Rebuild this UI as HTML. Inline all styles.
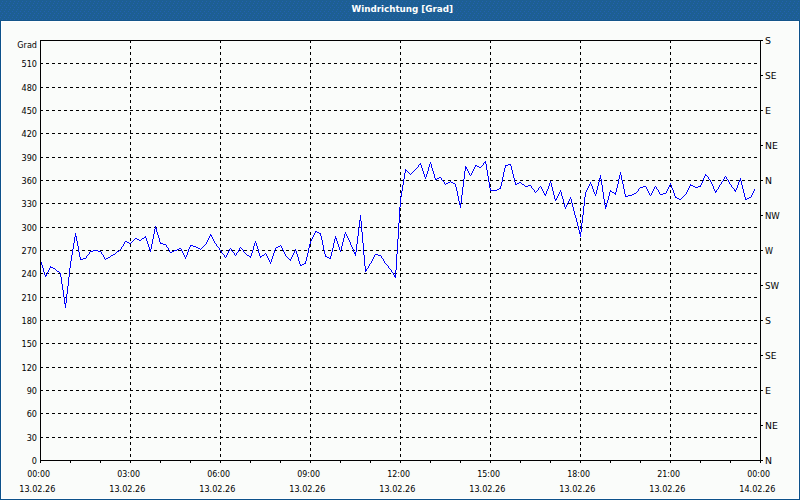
<!DOCTYPE html>
<html><head><meta charset="utf-8"><title>Windrichtung</title>
<style>
html,body{margin:0;padding:0;background:#fff;}
svg{display:block;}
</style></head><body>
<svg width="800" height="500" viewBox="0 0 800 500">
<defs><pattern id="dz" x="0" y="3" width="4" height="6" patternUnits="userSpaceOnUse"><rect width="4" height="6" fill="#1d5f93"/><rect x="1" y="0" width="1" height="1" fill="#2361b0"/><rect x="0" y="2" width="1" height="1" fill="#2361b0"/><rect x="2" y="4" width="1" height="1" fill="#2361b0"/></pattern></defs>
<g shape-rendering="crispEdges"><rect x="0" y="0" width="800" height="500" fill="#0c518a"/><rect x="0" y="0" width="800" height="20" fill="url(#dz)"/><rect x="0" y="20" width="800" height="1" fill="#14558a"/><rect x="1" y="21" width="798" height="478" fill="#fff"/><rect x="2" y="22" width="796" height="476" fill="#fafcfa"/></g>
<path d="M40 437.5H757 M40 413.5H757 M40 390.5H757 M40 367.5H757 M40 343.5H757 M40 320.5H757 M40 297.5H757 M40 273.5H757 M40 250.5H757 M40 227.5H757 M40 203.5H757 M40 180.5H757 M40 157.5H757 M40 133.5H757 M40 110.5H757 M40 87.5H757 M40 63.5H757 M130.5 40V457 M220.5 40V457 M310.5 40V457 M400.5 40V457 M490.5 40V457 M580.5 40V457 M670.5 40V457" stroke="#000" stroke-width="1" stroke-dasharray="3 3" fill="none" shape-rendering="crispEdges"/>
<path d="M40.5 461V463 M70.5 461V463 M100.5 461V463 M130.5 461V463 M160.5 461V463 M190.5 461V463 M220.5 461V463 M250.5 461V463 M280.5 461V463 M310.5 461V463 M340.5 461V463 M370.5 461V463 M400.5 461V463 M430.5 461V463 M460.5 461V463 M490.5 461V463 M520.5 461V463 M550.5 461V463 M580.5 461V463 M610.5 461V463 M640.5 461V463 M670.5 461V463 M700.5 461V463 M730.5 461V463 M760.5 461V463 M761 40.5H763 M761 75.5H763 M761 110.5H763 M761 145.5H763 M761 180.5H763 M761 215.5H763 M761 250.5H763 M761 285.5H763 M761 320.5H763 M761 355.5H763 M761 390.5H763 M761 425.5H763 M761 460.5H763" stroke="#000" stroke-width="1" fill="none" shape-rendering="crispEdges"/>
<path d="M40 260h1v2h-1zM41 262h1v3h-1zM42 265h1v3h-1zM43 268h1v4h-1zM44 272h1v3h-1zM45 275h1v2h-1zM46 274h1v2h-1zM47 272h1v2h-1zM48 270h1v2h-1zM49 268h1v2h-1zM50 266h1v2h-1zM51 267h1v1h-1zM52 267h1v1h-1zM53 268h1v1h-1zM54 268h1v1h-1zM55 269h1v1h-1zM56 270h1v1h-1zM57 271h1v1h-1zM58 271h1v1h-1zM59 272h1v1h-1zM60 273h1v4h-1zM61 277h1v7h-1zM62 284h1v6h-1zM63 290h1v7h-1zM64 297h1v7h-1zM65 303h1v5h-1zM66 294h1v9h-1zM67 286h1v8h-1zM68 277h1v9h-1zM69 268h1v9h-1zM70 261h1v7h-1zM71 255h1v6h-1zM72 249h1v6h-1zM73 243h1v6h-1zM74 237h1v6h-1zM75 233h1v4h-1zM76 236h1v5h-1zM77 241h1v5h-1zM78 246h1v6h-1zM79 252h1v5h-1zM80 257h1v3h-1zM81 259h1v1h-1zM82 259h1v1h-1zM83 258h1v1h-1zM84 258h1v1h-1zM85 258h1v1h-1zM86 256h1v2h-1zM87 255h1v1h-1zM88 254h1v1h-1zM89 252h1v2h-1zM90 251h1v1h-1zM91 251h1v1h-1zM92 251h1v1h-1zM93 250h1v1h-1zM94 250h1v1h-1zM95 250h1v1h-1zM96 250h1v1h-1zM97 250h1v1h-1zM98 251h1v1h-1zM99 251h1v1h-1zM100 251h1v1h-1zM101 252h1v2h-1zM102 254h1v1h-1zM103 255h1v2h-1zM104 257h1v2h-1zM105 259h1v1h-1zM106 258h1v1h-1zM107 258h1v1h-1zM108 257h1v1h-1zM109 257h1v1h-1zM110 256h1v1h-1zM111 255h1v1h-1zM112 255h1v1h-1zM113 254h1v1h-1zM114 254h1v1h-1zM115 253h1v1h-1zM116 252h1v1h-1zM117 251h1v1h-1zM118 251h1v1h-1zM119 250h1v1h-1zM120 249h1v1h-1zM121 247h1v2h-1zM122 246h1v1h-1zM123 244h1v2h-1zM124 242h1v2h-1zM125 241h1v1h-1zM126 241h1v1h-1zM127 242h1v1h-1zM128 242h1v1h-1zM129 243h1v1h-1zM130 243h1v1h-1zM131 242h1v1h-1zM132 241h1v1h-1zM133 240h1v1h-1zM134 239h1v1h-1zM135 238h1v1h-1zM136 238h1v1h-1zM137 239h1v1h-1zM138 239h1v1h-1zM139 240h1v1h-1zM140 240h1v1h-1zM141 239h1v1h-1zM142 238h1v1h-1zM143 238h1v1h-1zM144 237h1v1h-1zM145 236h1v2h-1zM146 238h1v3h-1zM147 241h1v3h-1zM148 244h1v3h-1zM149 247h1v3h-1zM150 249h1v3h-1zM151 244h1v5h-1zM152 239h1v5h-1zM153 234h1v5h-1zM154 229h1v5h-1zM155 226h1v3h-1zM156 228h1v4h-1zM157 232h1v3h-1zM158 235h1v3h-1zM159 238h1v4h-1zM160 242h1v2h-1zM161 243h1v1h-1zM162 243h1v1h-1zM163 244h1v1h-1zM164 244h1v1h-1zM165 244h1v1h-1zM166 245h1v2h-1zM167 247h1v1h-1zM168 248h1v2h-1zM169 250h1v2h-1zM170 252h1v1h-1zM171 252h1v1h-1zM172 251h1v1h-1zM173 251h1v1h-1zM174 250h1v1h-1zM175 250h1v1h-1zM176 250h1v1h-1zM177 249h1v1h-1zM178 249h1v1h-1zM179 248h1v1h-1zM180 248h1v1h-1zM181 249h1v2h-1zM182 251h1v2h-1zM183 253h1v2h-1zM184 255h1v2h-1zM185 257h1v2h-1zM186 255h1v2h-1zM187 252h1v3h-1zM188 249h1v3h-1zM189 247h1v2h-1zM190 245h1v2h-1zM191 245h1v1h-1zM192 245h1v1h-1zM193 246h1v1h-1zM194 246h1v1h-1zM195 246h1v1h-1zM196 247h1v1h-1zM197 247h1v1h-1zM198 248h1v1h-1zM199 248h1v1h-1zM200 249h1v1h-1zM201 248h1v1h-1zM202 247h1v1h-1zM203 246h1v1h-1zM204 245h1v1h-1zM205 244h1v1h-1zM206 242h1v2h-1zM207 240h1v2h-1zM208 238h1v2h-1zM209 236h1v2h-1zM210 234h1v2h-1zM211 235h1v2h-1zM212 237h1v2h-1zM213 239h1v2h-1zM214 241h1v2h-1zM215 243h1v1h-1zM216 244h1v2h-1zM217 246h1v1h-1zM218 247h1v1h-1zM219 248h1v2h-1zM220 250h1v1h-1zM221 251h1v2h-1zM222 253h1v1h-1zM223 254h1v1h-1zM224 255h1v2h-1zM225 257h1v1h-1zM226 255h1v2h-1zM227 253h1v2h-1zM228 251h1v2h-1zM229 249h1v2h-1zM230 248h1v1h-1zM231 249h1v2h-1zM232 251h1v1h-1zM233 252h1v1h-1zM234 253h1v2h-1zM235 255h1v1h-1zM236 253h1v2h-1zM237 252h1v1h-1zM238 250h1v2h-1zM239 248h1v2h-1zM240 247h1v1h-1zM241 248h1v1h-1zM242 249h1v1h-1zM243 250h1v2h-1zM244 252h1v1h-1zM245 253h1v1h-1zM246 254h1v1h-1zM247 255h1v1h-1zM248 255h1v1h-1zM249 256h1v1h-1zM250 256h1v2h-1zM251 253h1v3h-1zM252 250h1v3h-1zM253 246h1v4h-1zM254 243h1v3h-1zM255 241h1v2h-1zM256 243h1v3h-1zM257 246h1v3h-1zM258 249h1v4h-1zM259 253h1v3h-1zM260 256h1v2h-1zM261 256h1v1h-1zM262 255h1v1h-1zM263 255h1v1h-1zM264 254h1v1h-1zM265 253h1v1h-1zM266 254h1v2h-1zM267 256h1v2h-1zM268 258h1v2h-1zM269 260h1v2h-1zM270 262h1v2h-1zM271 259h1v3h-1zM272 256h1v3h-1zM273 253h1v3h-1zM274 250h1v3h-1zM275 248h1v2h-1zM276 247h1v1h-1zM277 247h1v1h-1zM278 246h1v1h-1zM279 246h1v1h-1zM280 245h1v1h-1zM281 246h1v2h-1zM282 248h1v2h-1zM283 250h1v2h-1zM284 252h1v2h-1zM285 254h1v2h-1zM286 256h1v1h-1zM287 257h1v1h-1zM288 258h1v1h-1zM289 259h1v1h-1zM290 259h1v2h-1zM291 257h1v2h-1zM292 255h1v2h-1zM293 253h1v2h-1zM294 251h1v2h-1zM295 249h1v2h-1zM296 251h1v3h-1zM297 254h1v3h-1zM298 257h1v4h-1zM299 261h1v3h-1zM300 264h1v2h-1zM301 265h1v1h-1zM302 264h1v1h-1zM303 264h1v1h-1zM304 263h1v1h-1zM305 261h1v3h-1zM306 257h1v4h-1zM307 253h1v4h-1zM308 248h1v5h-1zM309 244h1v4h-1zM310 241h1v3h-1zM311 239h1v2h-1zM312 237h1v2h-1zM313 235h1v2h-1zM314 233h1v2h-1zM315 231h1v2h-1zM316 231h1v1h-1zM317 232h1v1h-1zM318 232h1v1h-1zM319 233h1v1h-1zM320 233h1v3h-1zM321 236h1v4h-1zM322 240h1v5h-1zM323 245h1v5h-1zM324 250h1v4h-1zM325 254h1v3h-1zM326 256h1v1h-1zM327 257h1v1h-1zM328 257h1v1h-1zM329 258h1v1h-1zM330 256h1v3h-1zM331 252h1v4h-1zM332 248h1v4h-1zM333 243h1v5h-1zM334 239h1v4h-1zM335 236h1v3h-1zM336 238h1v3h-1zM337 241h1v3h-1zM338 244h1v3h-1zM339 247h1v3h-1zM340 250h1v2h-1zM341 246h1v4h-1zM342 242h1v4h-1zM343 238h1v4h-1zM344 234h1v4h-1zM345 232h1v2h-1zM346 234h1v2h-1zM347 236h1v2h-1zM348 238h1v2h-1zM349 240h1v2h-1zM350 242h1v3h-1zM351 245h1v2h-1zM352 247h1v2h-1zM353 249h1v3h-1zM354 252h1v2h-1zM355 252h1v4h-1zM356 244h1v8h-1zM357 236h1v8h-1zM358 228h1v8h-1zM359 220h1v8h-1zM360 215h1v6h-1zM361 221h1v11h-1zM362 232h1v11h-1zM363 243h1v12h-1zM364 255h1v11h-1zM365 266h1v6h-1zM366 269h1v2h-1zM367 268h1v1h-1zM368 266h1v2h-1zM369 264h1v2h-1zM370 263h1v1h-1zM371 261h1v2h-1zM372 259h1v2h-1zM373 257h1v2h-1zM374 255h1v2h-1zM375 254h1v1h-1zM376 254h1v1h-1zM377 254h1v1h-1zM378 255h1v1h-1zM379 255h1v1h-1zM380 255h1v1h-1zM381 256h1v2h-1zM382 258h1v1h-1zM383 259h1v2h-1zM384 261h1v2h-1zM385 263h1v1h-1zM386 264h1v1h-1zM387 265h1v1h-1zM388 266h1v2h-1zM389 268h1v1h-1zM390 269h1v1h-1zM391 270h1v2h-1zM392 272h1v1h-1zM393 273h1v2h-1zM394 275h1v2h-1zM395 270h1v8h-1zM396 254h1v16h-1zM397 239h1v15h-1zM398 223h1v16h-1zM399 207h1v16h-1zM400 197h1v10h-1zM401 191h1v6h-1zM402 185h1v6h-1zM403 179h1v6h-1zM404 173h1v6h-1zM405 169h1v4h-1zM406 170h1v1h-1zM407 171h1v1h-1zM408 172h1v1h-1zM409 173h1v1h-1zM410 174h1v1h-1zM411 173h1v1h-1zM412 172h1v1h-1zM413 171h1v1h-1zM414 170h1v1h-1zM415 169h1v1h-1zM416 168h1v1h-1zM417 167h1v1h-1zM418 165h1v2h-1zM419 164h1v1h-1zM420 163h1v2h-1zM421 165h1v3h-1zM422 168h1v3h-1zM423 171h1v3h-1zM424 174h1v3h-1zM425 177h1v2h-1zM426 174h1v3h-1zM427 171h1v3h-1zM428 167h1v4h-1zM429 164h1v3h-1zM430 162h1v2h-1zM431 164h1v4h-1zM432 168h1v3h-1zM433 171h1v3h-1zM434 174h1v4h-1zM435 178h1v2h-1zM436 179h1v1h-1zM437 178h1v1h-1zM438 178h1v1h-1zM439 177h1v1h-1zM440 177h1v1h-1zM441 178h1v2h-1zM442 180h1v1h-1zM443 181h1v1h-1zM444 182h1v2h-1zM445 184h1v1h-1zM446 183h1v1h-1zM447 183h1v1h-1zM448 182h1v1h-1zM449 182h1v1h-1zM450 181h1v1h-1zM451 182h1v1h-1zM452 182h1v1h-1zM453 183h1v1h-1zM454 183h1v1h-1zM455 184h1v3h-1zM456 187h1v4h-1zM457 191h1v5h-1zM458 196h1v5h-1zM459 201h1v4h-1zM460 203h1v5h-1zM461 195h1v8h-1zM462 187h1v8h-1zM463 179h1v8h-1zM464 171h1v8h-1zM465 166h1v5h-1zM466 167h1v2h-1zM467 169h1v2h-1zM468 171h1v2h-1zM469 173h1v2h-1zM470 175h1v1h-1zM471 173h1v2h-1zM472 171h1v2h-1zM473 169h1v2h-1zM474 167h1v2h-1zM475 165h1v2h-1zM476 165h1v1h-1zM477 166h1v1h-1zM478 166h1v1h-1zM479 167h1v1h-1zM480 167h1v1h-1zM481 166h1v1h-1zM482 165h1v1h-1zM483 163h1v2h-1zM484 162h1v1h-1zM485 161h1v3h-1zM486 164h1v6h-1zM487 170h1v6h-1zM488 176h1v6h-1zM489 182h1v6h-1zM490 188h1v3h-1zM491 190h1v1h-1zM492 190h1v1h-1zM493 190h1v1h-1zM494 190h1v1h-1zM495 190h1v1h-1zM496 190h1v1h-1zM497 189h1v1h-1zM498 189h1v1h-1zM499 188h1v1h-1zM500 186h1v3h-1zM501 182h1v4h-1zM502 177h1v5h-1zM503 172h1v5h-1zM504 168h1v4h-1zM505 165h1v3h-1zM506 165h1v1h-1zM507 165h1v1h-1zM508 164h1v1h-1zM509 164h1v1h-1zM510 164h1v2h-1zM511 166h1v4h-1zM512 170h1v4h-1zM513 174h1v4h-1zM514 178h1v4h-1zM515 182h1v3h-1zM516 184h1v1h-1zM517 183h1v1h-1zM518 183h1v1h-1zM519 182h1v1h-1zM520 182h1v1h-1zM521 183h1v1h-1zM522 184h1v1h-1zM523 184h1v1h-1zM524 185h1v1h-1zM525 186h1v1h-1zM526 186h1v1h-1zM527 186h1v1h-1zM528 185h1v1h-1zM529 185h1v1h-1zM530 185h1v1h-1zM531 186h1v2h-1zM532 188h1v1h-1zM533 189h1v1h-1zM534 190h1v2h-1zM535 192h1v1h-1zM536 191h1v1h-1zM537 190h1v1h-1zM538 188h1v2h-1zM539 187h1v1h-1zM540 186h1v1h-1zM541 187h1v2h-1zM542 189h1v2h-1zM543 191h1v2h-1zM544 193h1v2h-1zM545 194h1v2h-1zM546 191h1v3h-1zM547 189h1v2h-1zM548 186h1v3h-1zM549 183h1v3h-1zM550 181h1v2h-1zM551 183h1v4h-1zM552 187h1v4h-1zM553 191h1v4h-1zM554 195h1v4h-1zM555 199h1v2h-1zM556 198h1v2h-1zM557 196h1v2h-1zM558 194h1v2h-1zM559 192h1v2h-1zM560 190h1v2h-1zM561 192h1v4h-1zM562 196h1v3h-1zM563 199h1v4h-1zM564 203h1v4h-1zM565 207h1v2h-1zM566 205h1v2h-1zM567 203h1v2h-1zM568 201h1v2h-1zM569 199h1v2h-1zM570 197h1v2h-1zM571 199h1v4h-1zM572 203h1v4h-1zM573 207h1v4h-1zM574 211h1v4h-1zM575 215h1v3h-1zM576 218h1v4h-1zM577 222h1v4h-1zM578 226h1v4h-1zM579 230h1v4h-1zM580 232h1v5h-1zM581 223h1v9h-1zM582 215h1v8h-1zM583 206h1v9h-1zM584 197h1v9h-1zM585 192h1v5h-1zM586 190h1v2h-1zM587 188h1v2h-1zM588 186h1v2h-1zM589 184h1v2h-1zM590 182h1v2h-1zM591 184h1v2h-1zM592 186h1v3h-1zM593 189h1v3h-1zM594 192h1v2h-1zM595 194h1v2h-1zM596 190h1v4h-1zM597 186h1v4h-1zM598 182h1v4h-1zM599 178h1v4h-1zM600 175h1v4h-1zM601 179h1v6h-1zM602 185h1v7h-1zM603 192h1v7h-1zM604 199h1v6h-1zM605 205h1v4h-1zM606 203h1v4h-1zM607 200h1v3h-1zM608 196h1v4h-1zM609 192h1v4h-1zM610 190h1v2h-1zM611 191h1v1h-1zM612 192h1v1h-1zM613 192h1v1h-1zM614 193h1v1h-1zM615 192h1v3h-1zM616 188h1v4h-1zM617 184h1v4h-1zM618 179h1v5h-1zM619 175h1v4h-1zM620 172h1v3h-1zM621 175h1v5h-1zM622 180h1v4h-1zM623 184h1v5h-1zM624 189h1v5h-1zM625 194h1v3h-1zM626 196h1v1h-1zM627 196h1v1h-1zM628 195h1v1h-1zM629 195h1v1h-1zM630 195h1v1h-1zM631 195h1v1h-1zM632 194h1v1h-1zM633 194h1v1h-1zM634 193h1v1h-1zM635 193h1v1h-1zM636 192h1v1h-1zM637 191h1v1h-1zM638 189h1v2h-1zM639 188h1v1h-1zM640 187h1v1h-1zM641 187h1v1h-1zM642 187h1v1h-1zM643 186h1v1h-1zM644 186h1v1h-1zM645 186h1v1h-1zM646 187h1v2h-1zM647 189h1v2h-1zM648 191h1v2h-1zM649 193h1v2h-1zM650 195h1v1h-1zM651 193h1v2h-1zM652 191h1v2h-1zM653 189h1v2h-1zM654 187h1v2h-1zM655 186h1v1h-1zM656 187h1v2h-1zM657 189h1v1h-1zM658 190h1v2h-1zM659 192h1v2h-1zM660 194h1v1h-1zM661 194h1v1h-1zM662 194h1v1h-1zM663 193h1v1h-1zM664 193h1v1h-1zM665 193h1v1h-1zM666 191h1v2h-1zM667 189h1v2h-1zM668 187h1v2h-1zM669 185h1v2h-1zM670 183h1v2h-1zM671 185h1v3h-1zM672 188h1v2h-1zM673 190h1v3h-1zM674 193h1v3h-1zM675 196h1v2h-1zM676 197h1v1h-1zM677 198h1v1h-1zM678 198h1v1h-1zM679 199h1v1h-1zM680 199h1v1h-1zM681 198h1v1h-1zM682 197h1v1h-1zM683 196h1v1h-1zM684 195h1v1h-1zM685 194h1v1h-1zM686 192h1v2h-1zM687 190h1v2h-1zM688 188h1v2h-1zM689 186h1v2h-1zM690 184h1v2h-1zM691 185h1v1h-1zM692 185h1v1h-1zM693 186h1v1h-1zM694 186h1v1h-1zM695 187h1v1h-1zM696 187h1v1h-1zM697 187h1v1h-1zM698 186h1v1h-1zM699 186h1v1h-1zM700 185h1v2h-1zM701 183h1v2h-1zM702 181h1v2h-1zM703 178h1v3h-1zM704 176h1v2h-1zM705 174h1v2h-1zM706 175h1v1h-1zM707 176h1v1h-1zM708 177h1v2h-1zM709 179h1v1h-1zM710 180h1v2h-1zM711 182h1v2h-1zM712 184h1v2h-1zM713 186h1v3h-1zM714 189h1v2h-1zM715 191h1v2h-1zM716 190h1v2h-1zM717 189h1v1h-1zM718 187h1v2h-1zM719 185h1v2h-1zM720 184h1v1h-1zM721 182h1v2h-1zM722 181h1v1h-1zM723 179h1v2h-1zM724 177h1v2h-1zM725 176h1v1h-1zM726 177h1v2h-1zM727 179h1v1h-1zM728 180h1v2h-1zM729 182h1v2h-1zM730 184h1v1h-1zM731 185h1v2h-1zM732 187h1v1h-1zM733 188h1v1h-1zM734 189h1v2h-1zM735 190h1v2h-1zM736 188h1v2h-1zM737 185h1v3h-1zM738 182h1v3h-1zM739 180h1v2h-1zM740 178h1v3h-1zM741 181h1v4h-1zM742 185h1v4h-1zM743 189h1v4h-1zM744 193h1v4h-1zM745 197h1v3h-1zM746 199h1v1h-1zM747 198h1v1h-1zM748 198h1v1h-1zM749 197h1v1h-1zM750 197h1v1h-1zM751 195h1v2h-1zM752 193h1v2h-1zM753 191h1v2h-1zM754 189h1v2h-1z" fill="#0000ff" shape-rendering="crispEdges"/>
<path d="M40.5 40.5H760.5V460.5H40.5Z" stroke="#000" stroke-width="1" fill="none" shape-rendering="crispEdges"/>
<g font-family="'DejaVu Sans Condensed','DejaVu Sans',sans-serif" font-size="9px" fill="#000"><text x="37" y="48" text-anchor="end">Grad</text><text x="37" y="463.5" text-anchor="end">0</text><text x="37" y="440.5" text-anchor="end">30</text><text x="37" y="416.5" text-anchor="end">60</text><text x="37" y="393.5" text-anchor="end">90</text><text x="37" y="370.5" text-anchor="end">120</text><text x="37" y="346.5" text-anchor="end">150</text><text x="37" y="323.5" text-anchor="end">180</text><text x="37" y="300.5" text-anchor="end">210</text><text x="37" y="276.5" text-anchor="end">240</text><text x="37" y="253.5" text-anchor="end">270</text><text x="37" y="230.5" text-anchor="end">300</text><text x="37" y="206.5" text-anchor="end">330</text><text x="37" y="183.5" text-anchor="end">360</text><text x="37" y="160.5" text-anchor="end">390</text><text x="37" y="136.5" text-anchor="end">420</text><text x="37" y="113.5" text-anchor="end">450</text><text x="37" y="90.5" text-anchor="end">480</text><text x="37" y="66.5" text-anchor="end">510</text><text x="765" y="463.5" textLength="7" lengthAdjust="spacingAndGlyphs">N</text><text x="765" y="428.5" textLength="12.8" lengthAdjust="spacingAndGlyphs">NE</text><text x="765" y="393.5" textLength="6" lengthAdjust="spacingAndGlyphs">E</text><text x="765" y="358.5" textLength="11.5" lengthAdjust="spacingAndGlyphs">SE</text><text x="765" y="323.5" textLength="6" lengthAdjust="spacingAndGlyphs">S</text><text x="765" y="288.5" textLength="14" lengthAdjust="spacingAndGlyphs">SW</text><text x="765" y="253.5" textLength="8" lengthAdjust="spacingAndGlyphs">W</text><text x="765" y="218.5" textLength="14.8" lengthAdjust="spacingAndGlyphs">NW</text><text x="765" y="183.5" textLength="7" lengthAdjust="spacingAndGlyphs">N</text><text x="765" y="148.5" textLength="12.8" lengthAdjust="spacingAndGlyphs">NE</text><text x="765" y="113.5" textLength="6" lengthAdjust="spacingAndGlyphs">E</text><text x="765" y="78.5" textLength="11.5" lengthAdjust="spacingAndGlyphs">SE</text><text x="765" y="43.5" textLength="6" lengthAdjust="spacingAndGlyphs">S</text><text x="38.7" y="477" text-anchor="middle" textLength="22.8" lengthAdjust="spacingAndGlyphs">00:00</text><text x="37.3" y="492" text-anchor="middle">13.02.26</text><text x="128.7" y="477" text-anchor="middle" textLength="22.8" lengthAdjust="spacingAndGlyphs">03:00</text><text x="127.3" y="492" text-anchor="middle">13.02.26</text><text x="218.7" y="477" text-anchor="middle" textLength="22.8" lengthAdjust="spacingAndGlyphs">06:00</text><text x="217.3" y="492" text-anchor="middle">13.02.26</text><text x="308.7" y="477" text-anchor="middle" textLength="22.8" lengthAdjust="spacingAndGlyphs">09:00</text><text x="307.3" y="492" text-anchor="middle">13.02.26</text><text x="398.7" y="477" text-anchor="middle" textLength="22.8" lengthAdjust="spacingAndGlyphs">12:00</text><text x="397.3" y="492" text-anchor="middle">13.02.26</text><text x="488.7" y="477" text-anchor="middle" textLength="22.8" lengthAdjust="spacingAndGlyphs">15:00</text><text x="487.3" y="492" text-anchor="middle">13.02.26</text><text x="578.7" y="477" text-anchor="middle" textLength="22.8" lengthAdjust="spacingAndGlyphs">18:00</text><text x="577.3" y="492" text-anchor="middle">13.02.26</text><text x="668.7" y="477" text-anchor="middle" textLength="22.8" lengthAdjust="spacingAndGlyphs">21:00</text><text x="667.3" y="492" text-anchor="middle">13.02.26</text><text x="758.7" y="477" text-anchor="middle" textLength="22.8" lengthAdjust="spacingAndGlyphs">00:00</text><text x="757.3" y="492" text-anchor="middle">14.02.26</text></g>
<text x="351.5" y="12" font-family="'DejaVu Sans Condensed','DejaVu Sans',sans-serif" font-size="9px" font-weight="bold" fill="#fff" textLength="101.5" lengthAdjust="spacingAndGlyphs">Windrichtung [Grad]</text>
</svg>
</body></html>
